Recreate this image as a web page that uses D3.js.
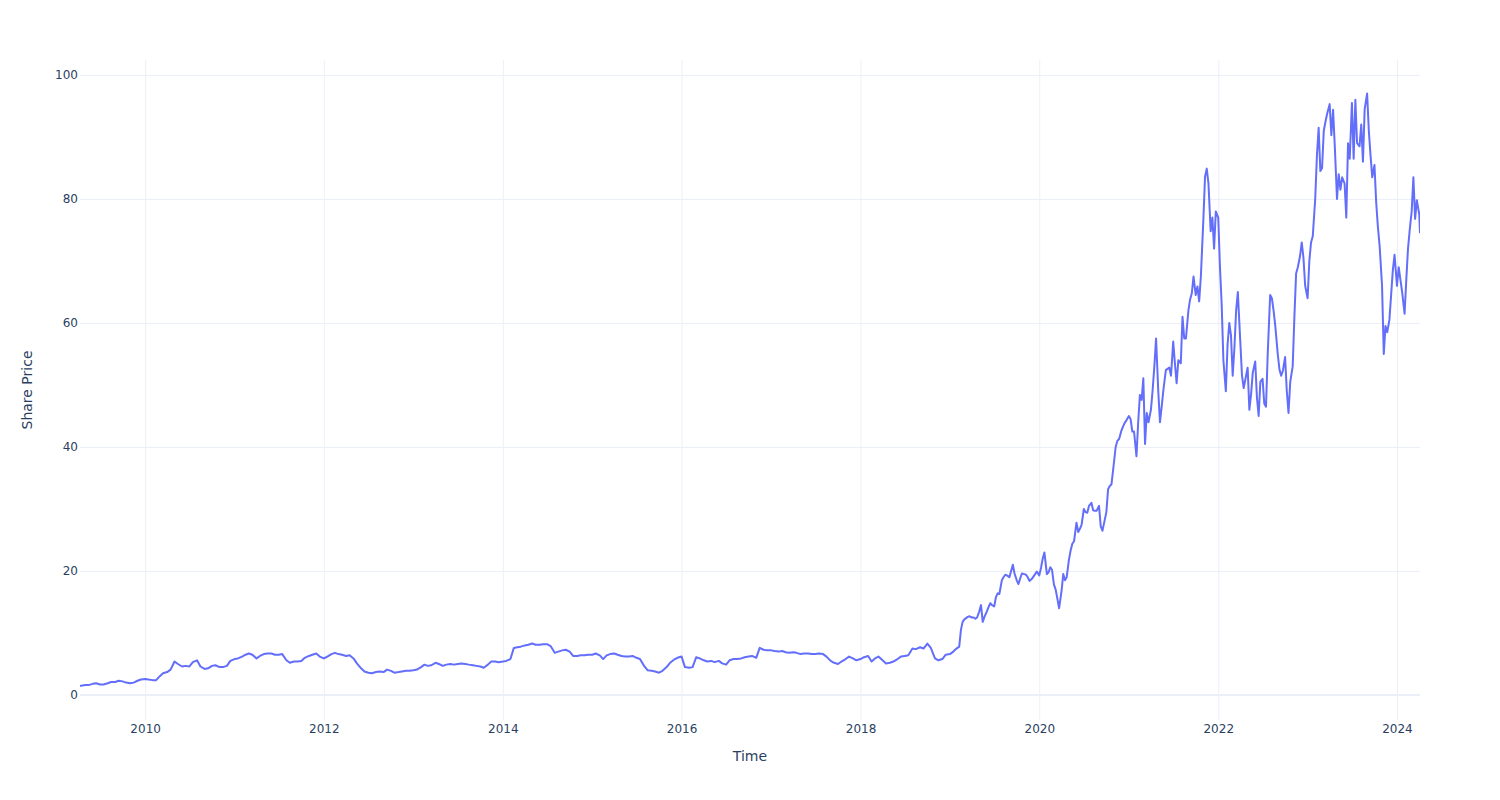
<!DOCTYPE html>
<html>
<head>
<meta charset="utf-8">
<script src="https://cdn.jsdelivr.net/npm/d3@7"></script>
<style>
  html, body { margin: 0; padding: 0; background: #ffffff; }
  svg { display: block; font-family: "DejaVu Sans", Verdana, sans-serif; }
</style>
</head>
<body>
<svg id="chart" width="1500" height="800"></svg>
<script>
// ---------------- DATA ----------------
const dates = [
  "2009-04-10","2009-04-15","2009-05-01","2009-05-15","2009-06-01","2009-06-15","2009-07-01","2009-07-15","2009-08-01","2009-08-15","2009-09-01","2009-09-15","2009-10-01","2009-10-15","2009-11-01","2009-11-15","2009-12-01","2009-12-15",
  "2010-01-01","2010-01-15","2010-02-01","2010-02-15","2010-03-01","2010-03-15","2010-04-01","2010-04-15","2010-05-01","2010-05-15","2010-06-01","2010-06-15","2010-07-01","2010-07-15","2010-08-01","2010-08-15","2010-09-01","2010-09-15","2010-10-01","2010-10-15","2010-11-01","2010-11-15","2010-12-01","2010-12-15",
  "2011-01-01","2011-01-15","2011-02-01","2011-02-15","2011-03-01","2011-03-15","2011-04-01","2011-04-15","2011-05-01","2011-05-15","2011-06-01","2011-06-15","2011-07-01","2011-07-15","2011-08-01","2011-08-15","2011-09-01","2011-09-15","2011-10-01","2011-10-15","2011-11-01","2011-11-15","2011-12-01","2011-12-15",
  "2012-01-01","2012-01-15","2012-02-01","2012-02-15","2012-03-01","2012-03-15","2012-04-01","2012-04-15","2012-05-01","2012-05-15","2012-06-01","2012-06-15","2012-07-01","2012-07-15","2012-08-01","2012-08-15","2012-09-01","2012-09-15","2012-10-01","2012-10-15","2012-11-01","2012-11-15","2012-12-01","2012-12-15",
  "2013-01-01","2013-01-15","2013-02-01","2013-02-15","2013-03-01","2013-03-15","2013-04-01","2013-04-15","2013-05-01","2013-05-15","2013-06-01","2013-06-15","2013-07-01","2013-07-15","2013-08-01","2013-08-15","2013-09-01","2013-09-15","2013-10-01","2013-10-15","2013-11-01","2013-11-15","2013-12-01","2013-12-15",
  "2014-01-01","2014-01-15","2014-02-01","2014-02-15","2014-03-01","2014-03-15","2014-04-01","2014-04-15","2014-05-01","2014-05-15","2014-06-01","2014-06-15","2014-07-01","2014-07-15","2014-08-01","2014-08-15","2014-09-01","2014-09-15","2014-10-01","2014-10-15","2014-11-01","2014-11-15","2014-12-01","2014-12-15",
  "2015-01-01","2015-01-15","2015-02-01","2015-02-15","2015-03-01","2015-03-15","2015-04-01","2015-04-15","2015-05-01","2015-05-15","2015-06-01","2015-06-15","2015-07-01","2015-07-15","2015-08-01","2015-08-15","2015-09-01","2015-09-15","2015-10-01","2015-10-15","2015-11-01","2015-11-15","2015-12-01","2015-12-15",
  "2016-01-01","2016-01-15","2016-02-01","2016-02-15","2016-03-01","2016-03-15","2016-04-01","2016-04-15","2016-05-01","2016-05-15","2016-06-01","2016-06-15","2016-07-01","2016-07-15","2016-08-01","2016-08-15","2016-09-01","2016-09-15","2016-10-01","2016-10-15","2016-11-01","2016-11-15","2016-12-01","2016-12-15",
  "2017-01-01","2017-01-15","2017-02-01","2017-02-15","2017-03-01","2017-03-15","2017-04-01","2017-04-15","2017-05-01","2017-05-15","2017-06-01","2017-06-15","2017-07-01","2017-07-15","2017-08-01","2017-08-15","2017-09-01","2017-09-15","2017-10-01","2017-10-15","2017-11-01","2017-11-15","2017-12-01","2017-12-15",
  "2018-01-01","2018-01-15","2018-02-01","2018-02-15","2018-03-01","2018-03-15","2018-04-01","2018-04-15","2018-05-01","2018-05-15","2018-06-01","2018-06-15","2018-07-01","2018-07-15","2018-08-01","2018-08-15","2018-09-01","2018-09-15","2018-10-01","2018-10-15","2018-11-01","2018-11-15","2018-12-01","2018-12-15",
  "2019-01-01","2019-01-08","2019-01-15","2019-01-22","2019-02-01","2019-02-08","2019-02-15","2019-02-22","2019-03-01","2019-03-08","2019-03-15","2019-03-22","2019-04-01","2019-04-08","2019-04-15","2019-04-22","2019-05-01","2019-05-08","2019-05-15","2019-05-22","2019-06-01","2019-06-08","2019-06-15","2019-06-22","2019-07-01","2019-07-08","2019-07-15","2019-07-22","2019-08-01","2019-08-08","2019-08-15","2019-08-22","2019-09-01","2019-09-08","2019-09-15","2019-09-22","2019-10-01","2019-10-08","2019-10-15","2019-10-22","2019-11-01","2019-11-08","2019-11-15","2019-11-22","2019-12-01","2019-12-08","2019-12-15","2019-12-22",
  "2020-01-01","2020-01-08","2020-01-15","2020-01-22","2020-02-01","2020-02-08","2020-02-15","2020-02-22","2020-03-01","2020-03-08","2020-03-15","2020-03-22","2020-04-01","2020-04-08","2020-04-15","2020-04-22","2020-05-01","2020-05-08","2020-05-15","2020-05-22","2020-06-01","2020-06-08","2020-06-15","2020-06-22","2020-07-01","2020-07-08","2020-07-15","2020-07-22","2020-08-01","2020-08-08","2020-08-15","2020-08-22","2020-09-01","2020-09-08","2020-09-15","2020-09-22","2020-10-01","2020-10-08","2020-10-15","2020-10-22","2020-11-01","2020-11-08","2020-11-15","2020-11-22","2020-12-01","2020-12-08","2020-12-15","2020-12-22",
  "2021-01-01","2021-01-08","2021-01-15","2021-01-22","2021-02-01","2021-02-08","2021-02-15","2021-02-22","2021-03-01","2021-03-08","2021-03-15","2021-03-22","2021-04-01","2021-04-08","2021-04-15","2021-04-22","2021-05-01","2021-05-08","2021-05-15","2021-05-22","2021-06-01","2021-06-08","2021-06-15","2021-06-22","2021-07-01","2021-07-08","2021-07-15","2021-07-22","2021-08-01","2021-08-08","2021-08-15","2021-08-22","2021-09-01","2021-09-08","2021-09-15","2021-09-22","2021-10-01","2021-10-08","2021-10-15","2021-10-22","2021-11-01","2021-11-08","2021-11-15","2021-11-22","2021-12-01","2021-12-08","2021-12-15","2021-12-22",
  "2022-01-01","2022-01-08","2022-01-15","2022-01-22","2022-02-01","2022-02-08","2022-02-15","2022-02-22","2022-03-01","2022-03-08","2022-03-15","2022-03-22","2022-04-01","2022-04-08","2022-04-15","2022-04-22","2022-05-01","2022-05-08","2022-05-15","2022-05-22","2022-06-01","2022-06-08","2022-06-15","2022-06-22","2022-07-01","2022-07-08","2022-07-15","2022-07-22","2022-08-01","2022-08-08","2022-08-15","2022-08-22","2022-09-01","2022-09-08","2022-09-15","2022-09-22","2022-10-01","2022-10-08","2022-10-15","2022-10-22","2022-11-01","2022-11-08","2022-11-15","2022-11-22","2022-12-01","2022-12-08","2022-12-15","2022-12-22",
  "2023-01-01","2023-01-08","2023-01-15","2023-01-22","2023-02-01","2023-02-08","2023-02-15","2023-02-22","2023-03-01","2023-03-08","2023-03-15","2023-03-22","2023-04-01","2023-04-08","2023-04-15","2023-04-22","2023-05-01","2023-05-08","2023-05-15","2023-05-22","2023-06-01","2023-06-08","2023-06-15","2023-06-22","2023-07-01","2023-07-08","2023-07-15","2023-07-22","2023-08-01","2023-08-08","2023-08-15","2023-08-22","2023-09-01","2023-09-08","2023-09-15","2023-09-22","2023-10-01","2023-10-08","2023-10-15","2023-10-22","2023-11-01","2023-11-08","2023-11-15","2023-11-22","2023-12-01","2023-12-08","2023-12-15","2023-12-22",
  "2024-01-01","2024-01-08","2024-01-15","2024-01-22","2024-02-01","2024-02-08","2024-02-15","2024-02-22","2024-03-01","2024-03-08","2024-03-15","2024-03-22","2024-04-01","2024-04-04"
];

const prices = [
  1.5, 1.5, 1.6, 1.6, 1.8, 1.9, 1.7, 1.7, 1.9, 2.1, 2.1, 2.3, 2.2, 2.0, 1.9, 2.0, 2.3, 2.5,
  2.6, 2.5, 2.4, 2.4, 3.0, 3.5, 3.7, 4.1, 5.4, 5.0, 4.6, 4.7, 4.6, 5.3, 5.6, 4.6, 4.2, 4.3, 4.7, 4.8, 4.5, 4.5, 4.7, 5.5,
  5.8, 5.9, 6.2, 6.5, 6.7, 6.5, 5.9, 6.3, 6.6, 6.7, 6.7, 6.5, 6.5, 6.6, 5.6, 5.2, 5.4, 5.4, 5.5, 6.0, 6.3, 6.5, 6.7, 6.2,
  5.9, 6.2, 6.6, 6.8, 6.6, 6.5, 6.3, 6.4, 5.9, 5.1, 4.3, 3.8, 3.6, 3.5, 3.7, 3.8, 3.7, 4.1, 3.9, 3.6, 3.7, 3.8, 3.9, 3.9,
  4.0, 4.1, 4.5, 4.9, 4.7, 4.8, 5.2, 5.0, 4.7, 4.9, 5.0, 4.9, 5.0, 5.1, 5.0, 4.9, 4.8, 4.7, 4.6, 4.4, 4.9, 5.4, 5.4, 5.3,
  5.4, 5.5, 5.8, 7.6, 7.7, 7.8, 8.0, 8.1, 8.3, 8.1, 8.1, 8.2, 8.2, 7.9, 6.8, 7.0, 7.2, 7.3, 7.0, 6.3, 6.3, 6.4, 6.4, 6.5,
  6.5, 6.7, 6.4, 5.8, 6.4, 6.6, 6.7, 6.5, 6.3, 6.2, 6.2, 6.3, 6.0, 5.8, 4.7, 4.0, 3.9, 3.8, 3.6, 3.9, 4.5, 5.2, 5.7, 6.0,
  6.2, 4.5, 4.4, 4.5, 6.1, 5.9, 5.6, 5.4, 5.5, 5.3, 5.5, 5.1, 4.9, 5.6, 5.8, 5.8, 5.9, 6.1, 6.2, 6.3, 6.0, 7.6, 7.3, 7.2,
  7.2, 7.1, 7.0, 7.1, 6.9, 6.8, 6.9, 6.8, 6.6, 6.7, 6.7, 6.6, 6.6, 6.7, 6.6, 6.2, 5.5, 5.2, 5.0, 5.4, 5.8, 6.2, 5.9, 5.6,
  5.8, 6.1, 6.3, 5.4, 5.9, 6.2, 5.6, 5.1, 5.2, 5.4, 5.8, 6.2, 6.3, 6.4, 7.5, 7.4, 7.7, 7.5, 8.3, 7.6, 5.9, 5.6, 5.8, 6.5,
  6.6, 6.8, 7.0, 7.3, 7.6, 7.8, 10.5, 11.8, 12.2, 12.4, 12.6, 12.7, 12.5, 12.5, 12.3, 12.5, 13.5, 14.5, 11.8, 12.6, 13.5, 14.2, 14.8, 14.5, 14.3, 15.8, 16.4, 16.3, 18.5, 19.0, 19.4, 19.3, 19.0, 20.0, 21.0, 19.6, 18.5, 17.9, 18.8, 19.6, 19.5, 19.4, 19.0, 18.4, 18.7, 19.1, 19.5, 19.9,
  19.3, 20.5, 22.0, 23.0, 19.5, 19.8, 20.6, 20.2, 17.8, 17.0, 15.5, 14.0, 16.8, 19.5, 18.5, 19.0, 21.8, 23.3, 24.4, 24.8, 27.8, 26.3, 26.8, 27.5, 30.0, 29.5, 29.4, 30.5, 31.0, 29.8, 29.7, 29.7, 30.5, 27.2, 26.5, 27.8, 29.5, 33.2, 33.7, 34.0, 37.5, 40.0, 41.0, 41.3, 42.6, 43.3, 43.9, 44.3,
  45.0, 44.5, 42.5, 42.5, 38.5, 44.0, 48.4, 47.6, 51.1, 40.5, 45.5, 44.0, 46.0, 49.2, 53.0, 57.5, 49.0, 44.0, 46.5, 49.2, 52.4, 52.6, 52.8, 51.5, 57.0, 53.5, 50.3, 54.0, 53.5, 61.0, 57.5, 57.5, 62.0, 63.8, 64.8, 67.5, 64.5, 65.9, 63.5, 67.5, 76.5, 83.6, 84.9, 82.5, 74.8, 77.0, 72.0, 78.0,
  77.0, 69.0, 63.0, 54.0, 49.0, 56.5, 60.0, 58.0, 51.5, 56.0, 62.0, 65.0, 57.0, 51.5, 49.5, 51.0, 52.8, 46.0, 48.5, 52.0, 53.8, 48.0, 45.0, 50.5, 51.0, 47.0, 46.5, 55.0, 64.5, 64.0, 62.0, 59.5, 55.0, 52.5, 51.5, 52.3, 54.5, 49.0, 45.5, 50.5, 53.0, 61.0, 68.0, 69.0, 70.8, 73.0, 70.5, 66.0,
  64.0, 70.0, 73.0, 74.0, 80.0, 87.0, 91.5, 84.5, 85.0, 91.0, 92.5, 93.8, 95.3, 90.3, 94.4, 88.5, 80.0, 84.0, 81.5, 83.5, 82.5, 77.0, 89.0, 86.5, 95.5, 86.5, 96.0, 89.0, 88.5, 92.0, 86.0, 94.5, 97.0, 91.0, 87.0, 83.5, 85.5, 79.5, 75.5, 72.5, 66.0, 55.0, 59.5, 58.5, 60.5, 64.5, 68.5, 71.0,
  66.0, 69.0, 67.0, 65.0, 61.5, 67.0, 72.0, 75.0, 78.0, 83.5, 76.8, 79.8, 77.5, 74.5
];

const yTickValues = [0, 20, 40, 60, 80, 100];
const xTickLabels = ["2010", "2012", "2014", "2016", "2018", "2020", "2022", "2024"];
const xAxisTitle = "Time";
const yAxisTitle = "Share Price";

// ---------------- LAYOUT ----------------
const W = 1500, H = 800;
const margin = { left: 80, right: 80, top: 60, bottom: 80 };
const yRange = [-4.03, 102.42];
const textColor = "#2a3f5f";
const gridColor = "#EBF0F8";
const lineColor = "#636efa";
const fontFamily = '"DejaVu Sans", Verdana, sans-serif';

const parse = d3.timeParse("%Y-%m-%d");
const n = Math.min(dates.length, prices.length);
const data = d3.range(n).map(i => ({ date: parse(dates[i]), value: prices[i] }));

const x = d3.scaleTime()
  .domain(d3.extent(data, d => d.date))
  .range([margin.left, W - margin.right]);
const y = d3.scaleLinear()
  .domain(yRange)
  .range([H - margin.bottom, margin.top]);

const svg = d3.select("#chart");
svg.append("rect").attr("width", W).attr("height", H).attr("fill", "#ffffff");

const xTicks = xTickLabels.map(s => d3.timeParse("%Y")(s));

// vertical grid
svg.append("g")
  .attr("transform", `translate(0,${H - margin.bottom})`)
  .call(d3.axisBottom(x).tickValues(xTicks).tickSize(-(H - margin.top - margin.bottom)).tickFormat(""))
  .call(g => g.select(".domain").remove())
  .call(g => g.selectAll("line").attr("stroke", gridColor).attr("stroke-width", 1));

// horizontal grid (non-zero)
svg.append("g")
  .attr("transform", `translate(${margin.left},0)`)
  .call(d3.axisLeft(y).tickValues(yTickValues.filter(v => v !== 0)).tickSize(-(W - margin.left - margin.right)).tickFormat(""))
  .call(g => g.select(".domain").remove())
  .call(g => g.selectAll("line").attr("stroke", gridColor).attr("stroke-width", 1));

// zero line
svg.append("line")
  .attr("x1", margin.left).attr("x2", W - margin.right)
  .attr("y1", y(0)).attr("y2", y(0))
  .attr("stroke", gridColor).attr("stroke-width", 2);

// clip for data
svg.append("clipPath").attr("id", "plotclip")
  .append("rect")
  .attr("x", margin.left).attr("y", margin.top)
  .attr("width", W - margin.left - margin.right)
  .attr("height", H - margin.top - margin.bottom);

const line = d3.line().x(d => x(d.date)).y(d => y(d.value));
svg.append("path")
  .datum(data)
  .attr("clip-path", "url(#plotclip)")
  .attr("fill", "none")
  .attr("stroke", lineColor)
  .attr("stroke-width", 2)
  .attr("stroke-linejoin", "round")
  .attr("d", line);

// x tick labels
const xAxisG = svg.append("g")
  .attr("transform", `translate(0,${H - margin.bottom})`)
  .call(d3.axisBottom(x).tickValues(xTicks).tickSize(0).tickPadding(0).tickFormat(d3.timeFormat("%Y")));
xAxisG.select(".domain").remove();
xAxisG.selectAll("text")
  .attr("y", 12.8).attr("dy", null)
  .attr("fill", textColor)
  .style("font-family", fontFamily)
  .style("font-size", "12px");

// y tick labels
const yAxisG = svg.append("g")
  .attr("transform", `translate(${margin.left},0)`)
  .call(d3.axisLeft(y).tickValues(yTickValues).tickSize(0).tickPadding(2).tickFormat(d3.format("d")));
yAxisG.select(".domain").remove();
yAxisG.selectAll("text")
  .attr("fill", textColor)
  .style("font-family", fontFamily)
  .style("font-size", "12px");

// axis titles
svg.append("text")
  .attr("x", (margin.left + W - margin.right) / 2)
  .attr("y", 761)
  .attr("text-anchor", "middle")
  .attr("fill", textColor)
  .style("font-family", fontFamily)
  .style("font-size", "14px")
  .text(xAxisTitle);

svg.append("text")
  .attr("transform", `translate(32,${(margin.top + H - margin.bottom) / 2}) rotate(-90)`)
  .attr("text-anchor", "middle")
  .attr("fill", textColor)
  .style("font-family", fontFamily)
  .style("font-size", "14px")
  .text(yAxisTitle);
</script>
</body>
</html>
